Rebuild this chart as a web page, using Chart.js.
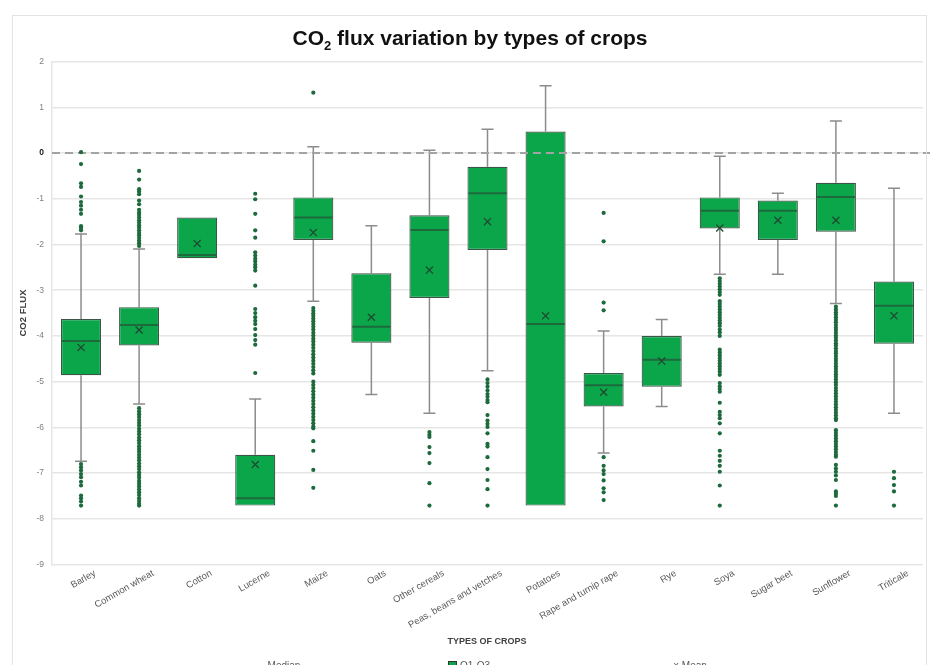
<!DOCTYPE html>
<html>
<head>
<meta charset="utf-8">
<script src="https://cdn.jsdelivr.net/npm/chart.js@4.4.0/dist/chart.umd.min.js"></script>
<style>
html, body { margin: 0; padding: 0; background: #fff; overflow: hidden; }
#wrap { width: 933px; height: 680px; }
</style>
</head>
<body>
<div id="wrap"><canvas id="mycanvas" width="933" height="680"></canvas></div>
<script>
// box plot values
var crops = ['Barley', 'Common wheat', 'Cotton', 'Lucerne', 'Maize', 'Oats', 'Other cereals',
	'Peas, beans and vetches', 'Potatoes', 'Rape and turnip rape', 'Rye', 'Soya', 'Sugar beet',
	'Sunflower', 'Triticale'];
var q1 =         [-4.86, -4.21, -2.30, -7.71, -1.90, -4.15, -3.17, -2.12, -7.71, -5.54, -5.11, -1.65, -1.90, -1.72, -4.17];
var q3 =         [-3.63, -3.37, -1.41, -6.60, -0.97, -2.63, -1.36, -0.30,  0.47, -4.81, -4.00, -0.97, -1.04, -0.65, -2.81];
var medians =    [-4.11, -3.76, -2.23, -7.55, -1.41, -3.80, -1.68, -0.88, -3.74, -5.08, -4.52, -1.26, -1.26, -0.96, -3.34];
var means =      [-4.25, -3.87, -1.98, -6.81, -1.74, -3.59, -2.56, -1.50, -3.56, -5.23, -4.55, -1.64, -1.47, -1.47, -3.56];
var whiskerMin = [-6.74, -5.49, -2.30, -7.71, -3.24, -5.28, -5.69, -4.76, -7.71, -6.56, -5.54, -2.65, -2.65, -3.29, -5.69];
var whiskerMax = [-1.77, -2.10, -1.41, -5.38,  0.14, -1.59,  0.06,  0.52,  1.47, -3.89, -3.64, -0.07, -0.88,  0.70, -0.77];
var outliers = [
	[0.02, -0.24, -0.66, -0.74, -0.95, -1.07, -1.15, -1.24, -1.33, -1.6, -1.64, -1.69, -6.8, -6.87, -6.94, -7.02, -7.09, -7.19, -7.27, -7.49, -7.55, -7.62, -7.71],
	[-0.39, -0.58, -0.79, -0.84, -0.9, -1.04, -1.12, -1.24, -1.3, -1.35, -1.41, -1.47, -1.52, -1.58, -1.63, -1.69, -1.75, -1.8, -1.86, -1.92, -1.97, -2.03,
	 -5.58, -5.65, -5.71, -5.77, -5.84, -5.9, -5.96, -6.03, -6.09, -6.15, -6.22, -6.28, -6.34, -6.41, -6.47, -6.53, -6.6, -6.66, -6.72, -6.79, -6.85,
	 -6.91, -6.98, -7.04, -7.1, -7.17, -7.23, -7.29, -7.36, -7.42, -7.48, -7.55, -7.61, -7.67, -7.71],
	[],
	[-0.89, -1.01, -1.33, -1.69, -1.85, -2.17, -2.24, -2.31, -2.37, -2.44, -2.5, -2.57, -2.9, -3.41, -3.5, -3.59, -3.67, -3.74, -3.85, -3.98, -4.09, -4.19, -4.81],
	[1.32, -3.39, -3.45, -3.51, -3.56, -3.62, -3.68, -3.74, -3.8, -3.86, -3.93, -3.99, -4.06, -4.12, -4.19, -4.26, -4.33, -4.4, -4.47, -4.54, -4.61, -4.68,
	 -4.75, -4.82, -5.0, -5.07, -5.14, -5.21, -5.28, -5.35, -5.42, -5.49, -5.56, -5.63, -5.7, -5.77, -5.84, -5.91, -5.98, -6.02, -6.3, -6.51, -6.93, -7.32],
	[],
	[-6.1, -6.16, -6.21, -6.43, -6.56, -6.78, -7.22, -7.71],
	[-4.95, -5.03, -5.11, -5.19, -5.27, -5.33, -5.4, -5.45, -5.73, -5.85, -5.92, -5.99, -6.13, -6.36, -6.42, -6.65, -6.91, -7.15, -7.35, -7.71],
	[],
	[-1.31, -1.93, -3.27, -3.44, -6.65, -6.84, -6.94, -7.02, -7.16, -7.33, -7.42, -7.59],
	[],
	[-2.74, -2.8, -2.86, -2.92, -2.98, -3.04, -3.1, -3.24, -3.3, -3.36, -3.42, -3.48, -3.54, -3.6, -3.66, -3.72, -3.78, -3.86, -3.92, -4.0,
	 -4.3, -4.36, -4.42, -4.48, -4.54, -4.6, -4.66, -4.72, -4.78, -4.85, -5.03, -5.1, -5.16, -5.22, -5.46, -5.66, -5.73, -5.8, -5.91, -6.13,
	 -6.51, -6.62, -6.73, -6.84, -6.97, -7.27, -7.71],
	[],
	[-3.36, -3.42, -3.48, -3.53, -3.59, -3.65, -3.7, -3.76, -3.82, -3.87, -3.93, -3.99, -4.04, -4.1, -4.16, -4.21, -4.27, -4.33, -4.38, -4.44,
	 -4.5, -4.55, -4.61, -4.67, -4.72, -4.78, -4.84, -4.89, -4.95, -5.01, -5.07, -5.14, -5.2, -5.26, -5.32, -5.38, -5.44, -5.5, -5.56, -5.62,
	 -5.68, -5.74, -5.8, -5.84, -6.06, -6.12, -6.18, -6.24, -6.3, -6.36, -6.42, -6.48, -6.54, -6.6, -6.64, -6.82, -6.9, -6.97, -7.05, -7.15,
	 -7.4, -7.45, -7.5, -7.71],
	[-6.97, -7.11, -7.26, -7.4, -7.71]
];
var yTicks = [2, 1, 0, -1, -2, -3, -4, -5, -6, -7, -8, -9];

var boxGreen = '#0ba64a';
var darkGreen = '#1d6a3d';

Chart.defaults.font.family = '"Liberation Sans", Arial, sans-serif';

var outlierPoints = [];
for (var i = 0; i < crops.length; i++) {
	for (var k = 0; k < outliers[i].length; k++) {
		outlierPoints.push({ x: crops[i], y: outliers[i][k] });
	}
}

// whiskers, medians, zero line and the texts
var boxParts = {
	id: 'boxParts',
	beforeDatasetsDraw: function(chart) {
		var ctx = chart.ctx, xs = chart.scales.x, ys = chart.scales.y;
		ctx.save();
		ctx.strokeStyle = '#8c8c8c';
		ctx.lineWidth = 1.5;
		for (var i = 0; i < crops.length; i++) {
			var px = xs.getPixelForValue(i);
			if (whiskerMax[i] > q3[i] + 0.02) {
				var top = ys.getPixelForValue(whiskerMax[i]);
				ctx.beginPath();
				ctx.moveTo(px, top); ctx.lineTo(px, ys.getPixelForValue(q3[i]));
				ctx.moveTo(px - 6, top); ctx.lineTo(px + 6, top);
				ctx.stroke();
			}
			if (whiskerMin[i] < q1[i] - 0.02) {
				var bot = ys.getPixelForValue(whiskerMin[i]);
				ctx.beginPath();
				ctx.moveTo(px, bot); ctx.lineTo(px, ys.getPixelForValue(q1[i]));
				ctx.moveTo(px - 6, bot); ctx.lineTo(px + 6, bot);
				ctx.stroke();
			}
		}
		ctx.restore();
	},
	afterDatasetDraw: function(chart, args) {
		if (args.index !== 0) return;
		var ctx = chart.ctx, ys = chart.scales.y;
		var meta = chart.getDatasetMeta(0);
		ctx.save();
		ctx.strokeStyle = darkGreen;
		ctx.lineWidth = 2;
		for (var i = 0; i < crops.length; i++) {
			var bar = meta.data[i];
			var py = ys.getPixelForValue(medians[i]);
			ctx.beginPath();
			ctx.moveTo(bar.x - bar.width / 2 + 1, py);
			ctx.lineTo(bar.x + bar.width / 2 - 1, py);
			ctx.stroke();
		}
		// dashed zero line
		var zy = ys.getPixelForValue(0);
		ctx.strokeStyle = '#a3a3a3';
		ctx.lineWidth = 2;
		ctx.setLineDash([8, 5]);
		ctx.beginPath();
		ctx.moveTo(chart.chartArea.left, zy);
		ctx.lineTo(930, zy);
		ctx.stroke();
		ctx.restore();
	},
	afterDraw: function(chart) {
		var ctx = chart.ctx;
		ctx.save();
		// frame
		ctx.strokeStyle = '#e3e3e3';
		ctx.lineWidth = 1;
		ctx.strokeRect(12.5, 15.5, 914, 700);
		// title with subscript
		ctx.fillStyle = '#111';
		ctx.textBaseline = 'alphabetic';
		var big = 'bold 21px "Liberation Sans", Arial, sans-serif';
		var small = 'bold 13px "Liberation Sans", Arial, sans-serif';
		ctx.font = big;
		var w1 = ctx.measureText('CO').width;
		var w3 = ctx.measureText(' flux variation by types of crops').width;
		ctx.font = small;
		var w2 = ctx.measureText('2').width;
		var x0 = 470 - (w1 + w2 + w3) / 2;
		ctx.font = big;
		ctx.textAlign = 'left';
		ctx.fillText('CO', x0, 45);
		ctx.font = small;
		ctx.fillText('2', x0 + w1, 50);
		ctx.font = big;
		ctx.fillText(' flux variation by types of crops', x0 + w1 + w2, 45);
		// axis titles
		ctx.fillStyle = '#404040';
		ctx.font = 'bold 9.5px "Liberation Sans", Arial, sans-serif';
		ctx.textAlign = 'center';
		ctx.textBaseline = 'middle';
		ctx.translate(23, 313);
		ctx.rotate(-Math.PI / 2);
		ctx.fillText('CO2 FLUX', 0, 0);
		ctx.setTransform(1, 0, 0, 1, 0, 0);
		ctx.font = 'bold 9px "Liberation Sans", Arial, sans-serif';
		ctx.fillText('TYPES OF CROPS', 487, 642);
		// legend, mostly below the window edge
		ctx.font = '10px "Liberation Sans", Arial, sans-serif';
		ctx.fillStyle = '#595959';
		ctx.textBaseline = 'top';
		ctx.fillText('Median', 284, 661);
		ctx.fillStyle = boxGreen;
		ctx.fillRect(448, 661, 8, 8);
		ctx.strokeStyle = '#333';
		ctx.strokeRect(448.5, 661.5, 8, 8);
		ctx.fillStyle = '#595959';
		ctx.textAlign = 'left';
		ctx.fillText('Q1-Q3', 460, 661);
		ctx.textAlign = 'center';
		ctx.fillText('\u00d7 Mean', 690, 661);
		ctx.restore();
	}
};

var ctx = document.getElementById('mycanvas');
var boxChart = new Chart(ctx, {
	type: 'bar',
	data: {
		labels: crops,
		datasets: [
			{
				label: 'Q1-Q3',
				data: crops.map(function(c, i) { return [q1[i], q3[i]]; }),
				backgroundColor: boxGreen,
				borderColor: '#3b5646',
				borderWidth: 1.2,
				borderSkipped: false,
				barPercentage: 0.69,
				categoryPercentage: 1,
				order: 3
			},
			{
				type: 'line',
				label: 'Outliers',
				data: outlierPoints,
				showLine: false,
				pointRadius: 2.1,
				pointBackgroundColor: darkGreen,
				pointBorderWidth: 0,
				order: 2
			},
			{
				type: 'line',
				label: 'Mean',
				data: means,
				showLine: false,
				pointStyle: 'crossRot',
				pointRadius: 5,
				pointBorderColor: '#1f4a31',
				pointBorderWidth: 1.3,
				order: 1
			}
		]
	},
	options: {
		responsive: false,
		animation: false,
		events: [],
		layout: { padding: { top: 61.6, right: 10, bottom: 0, left: 0 } },
		plugins: {
			legend: { display: false },
			title: { display: false },
			tooltip: { enabled: false }
		},
		scales: {
			x: {
				offset: true,
				grid: { display: false },
				border: { display: false },
				ticks: {
					autoSkip: false,
					minRotation: 30,
					maxRotation: 30,
					labelOffset: 14,
					padding: -5,
					color: '#595959',
					font: { size: 9.5 }
				},
				afterFit: function(scale) { scale.height = 115.4; }
			},
			y: {
				min: -9,
				max: 2,
				afterBuildTicks: function(scale) {
					scale.ticks = yTicks.map(function(v) { return { value: v }; });
				},
				grid: { color: '#e6e6e6', lineWidth: 1.5, drawTicks: false },
				border: { display: true, color: '#e6e6e6', width: 1.5 },
				ticks: {
					padding: 8,
					color: function(c) { return c.tick && c.tick.value === 0 ? '#1a1a1a' : '#808080'; },
					font: function(c) {
						return { size: 8.5, weight: c.tick && c.tick.value === 0 ? 'bold' : 'normal' };
					}
				},
				afterFit: function(scale) { scale.width = 52; }
			}
		}
	},
	plugins: [boxParts]
});
</script>
</body>
</html>
